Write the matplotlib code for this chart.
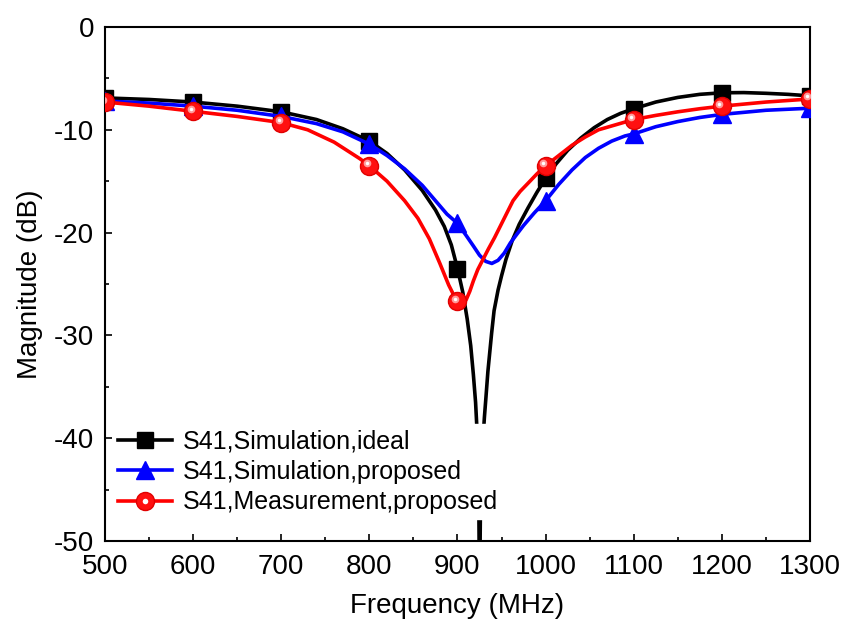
#S41 transmission plot - ideal sim vs proposed sim vs measurement
import matplotlib
matplotlib.use("Agg")
import matplotlib.pyplot as plt
from matplotlib.transforms import offset_copy
from matplotlib.legend_handler import HandlerTuple

plt.rcParams['font.family'] = ['Liberation Sans', 'DejaVu Sans']
plt.rcParams['axes.unicode_minus'] = False

#marker points every 100 MHz
freq_marks = [500, 600, 700, 800, 900, 1000, 1100, 1200, 1300]
ideal_marks = [-6.9, -7.3, -8.25, -11.1, -23.5, -14.7, -7.95, -6.4, -6.7]
sim_marks = [-7.2, -7.7, -8.7, -11.4, -19.1, -16.9, -10.4, -8.5, -7.9]
meas_marks = [-7.3, -8.2, -9.3, -13.5, -26.7, -13.5, -9.0, -7.7, -7.0]

#curves
ideal_f = [500, 550, 600, 650, 700, 740, 770, 800, 820, 840, 860, 875, 885,
           893, 900, 906, 911, 915, 918, 920.5, 922.5, 924, 925, 926, 927.5,
           929, 930.5, 932.3, 934.5, 938.7, 941.5, 946, 950, 955, 962, 970,
           980, 990, 1000, 1012, 1025, 1040, 1055, 1070, 1085, 1100, 1125,
           1150, 1175, 1200, 1225, 1250, 1275, 1300]
ideal_db = [-6.9, -7.05, -7.3, -7.7, -8.25, -9.0, -9.9, -11.1, -12.3, -13.9,
            -15.9, -17.8, -19.4, -21.2, -23.5, -25.8, -28.4, -31.0, -33.8,
            -36.5, -39.8, -44.0, -56.0, -47.0, -42.5, -40.0, -38.0, -36.0,
            -33.5, -29.8, -27.6, -25.6, -24.2, -22.6, -20.8, -19.2, -17.6,
            -16.1, -14.7, -13.3, -12.0, -10.8, -9.8, -9.0, -8.4, -7.95, -7.3,
            -6.85, -6.55, -6.4, -6.38, -6.45, -6.55, -6.7]

sim_f = [500, 550, 600, 650, 700, 740, 770, 800, 820, 840, 860, 875, 888,
         900, 910, 918, 925, 932, 939, 946, 953, 960, 967, 975, 987, 1000,
         1015, 1030, 1045, 1060, 1075, 1090, 1100, 1125, 1150, 1175, 1200,
         1250, 1300]
sim_db = [-7.2, -7.4, -7.7, -8.1, -8.7, -9.4, -10.2, -11.4, -12.5, -13.8,
          -15.4, -16.9, -18.2, -19.1, -20.3, -21.3, -22.2, -22.8, -23.0,
          -22.7, -22.0, -21.0, -20.2, -19.3, -18.1, -16.9, -15.3, -13.9,
          -12.7, -11.8, -11.1, -10.6, -10.4, -9.7, -9.2, -8.8, -8.5, -8.1,
          -7.9]

meas_f = [500, 550, 600, 650, 700, 730, 760, 789, 800, 820, 840, 855, 868,
          880, 890, 897, 902, 906, 910, 914, 918, 923, 929, 935, 942, 949,
          956, 963, 971, 980, 990, 1000, 1015, 1030, 1045, 1060, 1080, 1100,
          1125, 1150, 1175, 1200, 1250, 1300]
meas_db = [-7.3, -7.7, -8.2, -8.7, -9.3, -10.0, -11.2, -12.8, -13.5, -15.0,
           -16.9, -18.6, -20.6, -23.0, -25.1, -26.3, -26.9, -27.0, -26.5,
           -25.7, -24.7, -23.6, -22.6, -21.6, -20.5, -19.3, -18.1, -16.9,
           -16.0, -15.2, -14.3, -13.5, -12.5, -11.5, -10.7, -10.0, -9.5,
           -9.0, -8.6, -8.25, -7.95, -7.7, -7.3, -7.0]

fig = plt.figure(figsize=(8.45, 6.28), dpi=100)
ax = fig.add_axes([105/845, 1-541/628, 705/845, 514/628])

lw = 2.6
ax.plot(ideal_f, ideal_db, color='black', lw=lw, zorder=2)
ax.plot(freq_marks, ideal_marks, ls='none', marker='s', ms=11,
        color='black', zorder=3)
ax.plot(sim_f, sim_db, color='#0000ff', lw=lw, zorder=4)
ax.plot(freq_marks, sim_marks, ls='none', marker='^', ms=13,
        color='#0000ff', zorder=5)
ax.plot(meas_f, meas_db, color='#ff0000', lw=lw, zorder=6)
ax.plot(freq_marks, meas_marks, ls='none', marker='o', ms=13,
        color='#ff1010', mec='#e00000', zorder=7)
#shiny highlight on the red balls
hl_tr = offset_copy(ax.transData, fig=fig, x=-2.5, y=2.5, units='dots')
ax.plot(freq_marks, meas_marks, ls='none', marker='o', ms=5.5,
        color='#ff9a9a', mew=0, transform=hl_tr, zorder=8)
ax.plot(freq_marks, meas_marks, ls='none', marker='o', ms=2.5,
        color='white', mew=0, transform=hl_tr, zorder=9)

ax.set_xlim(500, 1300)
ax.set_ylim(-50, 0)
ax.set_xticks(range(500, 1301, 100))
ax.set_xticks(range(550, 1300, 100), minor=True)
ax.set_yticks(range(-50, 1, 10))
ax.set_yticks(range(-45, 0, 10), minor=True)
ax.tick_params(which='both', direction='in', top=False, right=False,
               width=1.2, labelsize=20)
ax.tick_params(which='major', length=5)
ax.tick_params(which='minor', length=3)
ax.tick_params(axis='x', pad=9.5)
ax.tick_params(axis='y', pad=8)
for s in ax.spines.values():
    s.set_linewidth(1.5)

ax.set_xlabel("Frequency (MHz)", fontsize=20, labelpad=9)
ax.set_ylabel("Magnitude (dB)", fontsize=20, labelpad=8)

#legend handles with line + marker
h1, = ax.plot([], [], color='black', lw=lw, marker='s', ms=11)
h2, = ax.plot([], [], color='#0000ff', lw=lw, marker='^', ms=13)
h3, = ax.plot([], [], color='#ff0000', lw=lw, marker='o', ms=13,
              mfc='#ff1010', mec='#e00000')
h3b, = ax.plot([], [], ls='none', marker='o', ms=4, color='white', mew=0)
leg = ax.legend([h1, h2, (h3, h3b)],
                ["S41,Simulation,ideal", "S41,Simulation,proposed",
                 "S41,Measurement,proposed"],
                handler_map={tuple: HandlerTuple(ndivide=1)},
                loc='lower left', bbox_to_anchor=(0.011, 0.042),
                borderaxespad=0, borderpad=0.2, fontsize=18,
                handlelength=2.16, handletextpad=0.44, labelspacing=0.26,
                frameon=True, fancybox=False, framealpha=1,
                facecolor='white', edgecolor='white')
leg.set_zorder(20)

fig.savefig("out.png", dpi=100)
